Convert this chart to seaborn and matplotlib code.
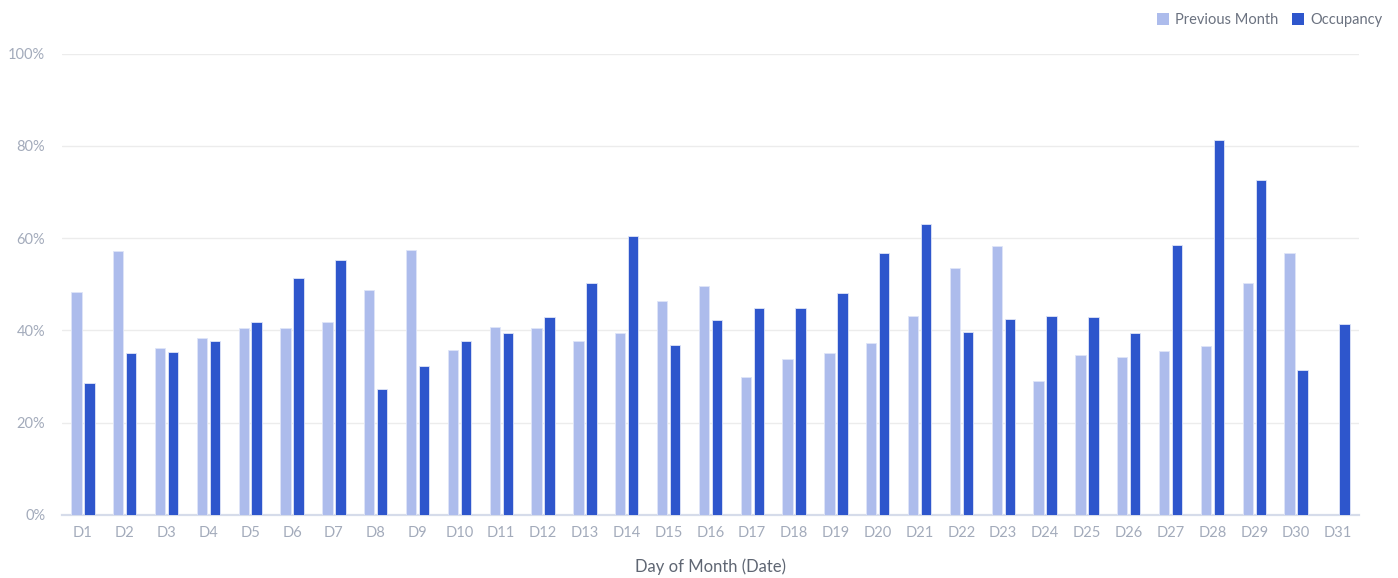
import numpy as np
import pandas as pd
import matplotlib
matplotlib.use("Agg")
import matplotlib.pyplot as plt
from matplotlib.patches import Patch
import seaborn as sns

days = [f"D{i}" for i in range(1, 32)]
previous_month = [48.4, 57.2, 36.1, 38.4, 40.6, 40.6, 41.9, 48.7, 57.4, 35.8,
                  40.8, 40.6, 37.6, 39.4, 46.4, 49.6, 29.8, 33.8, 35.1, 37.3,
                  43.1, 53.5, 58.2, 29.0, 34.6, 34.3, 35.6, 36.6, 50.2, 56.7,
                  np.nan]
occupancy = [28.7, 35.0, 35.3, 37.6, 41.9, 51.4, 55.3, 27.2, 32.3, 37.8,
             39.4, 42.8, 50.2, 60.5, 36.8, 42.2, 44.9, 44.9, 48.1, 56.7,
             63.0, 39.7, 42.4, 43.1, 42.9, 39.4, 58.6, 81.3, 72.7, 31.4,
             41.3]
series_names = ["Previous Month", "Occupancy"]
y_ticks = [0, 20, 40, 60, 80, 100]
y_tick_labels = ["0%", "20%", "40%", "60%", "80%", "100%"]
x_label = "Day of Month (Date)"

colors = {"Previous Month": "#adbcec", "Occupancy": "#2e56cc"}

df = pd.DataFrame({
    "day": days * 2,
    "value": previous_month + occupancy,
    "series": [series_names[0]] * len(days) + [series_names[1]] * len(days),
})

sns.set_theme(style="white")
plt.rcParams["font.family"] = ["Lato", "DejaVu Sans"]

fig = plt.figure(figsize=(13.98, 5.78), dpi=100)
ax = fig.add_axes([0.0443, 0.109, 0.9277, 0.7984])

sns.barplot(data=df, x="day", y="value", hue="series", order=days,
            hue_order=series_names, palette=colors, saturation=1,
            width=0.62, gap=0.2, edgecolor="#dfe5f8", linewidth=0.6,
            legend=False, ax=ax, errorbar=None, zorder=3)

ax.set_ylim(0, 100)
ax.set_xlim(-0.5, len(days) - 0.5)
ax.set_yticks(y_ticks)
ax.set_yticklabels(y_tick_labels)
ax.yaxis.grid(True, color="#ececec", linewidth=1.0, zorder=0)
ax.xaxis.grid(False)
ax.set_axisbelow(True)

for side in ["top", "right", "left"]:
    ax.spines[side].set_visible(False)
ax.spines["bottom"].set_color("#d6dcea")
ax.spines["bottom"].set_linewidth(1.6)

ax.tick_params(axis="both", length=0, labelsize=10.5, colors="#a3abbb")
ax.tick_params(axis="x", pad=8)
ax.tick_params(axis="y", pad=12)
ax.set_ylabel("")
ax.set_xlabel(x_label, fontsize=12, color="#5f6673", labelpad=13)

handles = [Patch(facecolor=colors[n], edgecolor="none") for n in series_names]
fig.legend(handles, series_names, loc="upper right", bbox_to_anchor=(0.998, 1.0),
           ncol=2, frameon=False, fontsize=10.5, labelcolor="#6b7280",
           handlelength=0.8, handleheight=0.8, handletextpad=0.4,
           columnspacing=1.0)

fig.savefig("out.png", dpi=100, facecolor="white")
